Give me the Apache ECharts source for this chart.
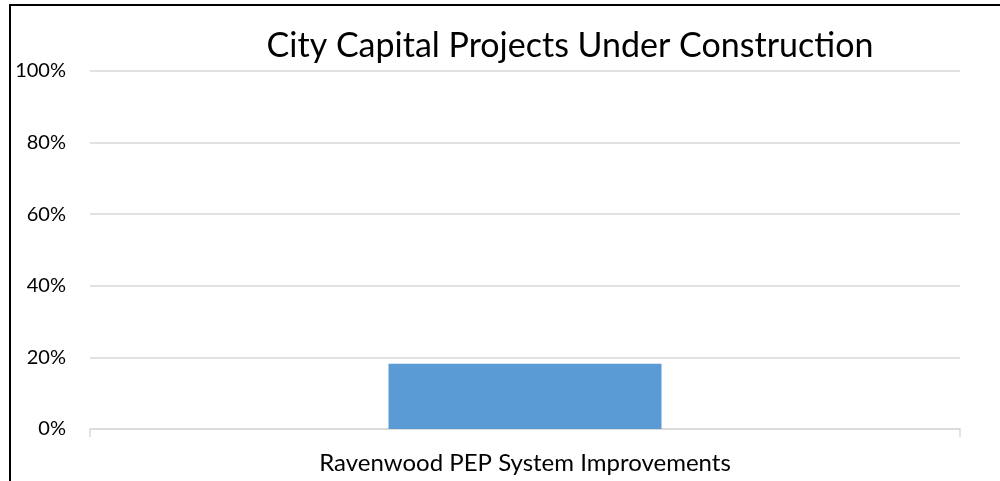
<!DOCTYPE html>
<html>
<head>
<meta charset="utf-8">
<script src="https://cdn.jsdelivr.net/npm/echarts@6/dist/echarts.min.js"></script>
<style>
html,body{margin:0;padding:0;background:#fff;}
#chart{width:1000px;height:481px;}
</style>
</head>
<body>
<div id="chart"></div>
<script>
const titleText = "City Capital Projects Under Construction";
const categories = ["Ravenwood PEP System Improvements"];
const values = [0.182];
const yTicks = [0, 0.2, 0.4, 0.6, 0.8, 1.0];

const chart = echarts.init(document.getElementById('chart'), null, {renderer: 'canvas'});
const font = "Lato, 'Open Sans', sans-serif";
chart.setOption({
  backgroundColor: '#ffffff',
  animation: false,
  title: {
    text: titleText,
    left: 565,
    textAlign: 'center',
    top: 24,
    textStyle: {fontFamily: font, fontSize: 34, fontWeight: 'normal', color: '#000'}
  },
  graphic: [
    {type: 'line', shape: {x1: 9, y1: 5, x2: 1000, y2: 5}, style: {stroke: '#000', lineWidth: 2}},
    {type: 'line', shape: {x1: 10, y1: 4, x2: 10, y2: 481}, style: {stroke: '#000', lineWidth: 2}}
  ],
  grid: {left: 90, right: 40, top: 71, bottom: 52, containLabel: false},
  xAxis: {
    type: 'category',
    data: categories,
    axisLine: {lineStyle: {color: '#d9d9d9', width: 1.5}},
    axisTick: {show: true, length: 8, lineStyle: {color: '#d9d9d9', width: 1.5}},
    axisLabel: {fontFamily: font, fontSize: 24, color: '#000', margin: 22}
  },
  yAxis: {
    type: 'value',
    min: 0, max: 1, interval: 0.2,
    axisLine: {show: false},
    axisTick: {show: false},
    splitLine: {lineStyle: {color: '#d9d9d9', width: 1.5}},
    axisLabel: {
      fontFamily: font, fontSize: 20, color: '#000', margin: 24,
      formatter: v => Math.round(v * 100) + '%'
    }
  },
  series: [{
    type: 'bar',
    data: values,
    barWidth: 273,
    itemStyle: {color: '#5b9bd5'}
  }]
});
</script>
</body>
</html>
